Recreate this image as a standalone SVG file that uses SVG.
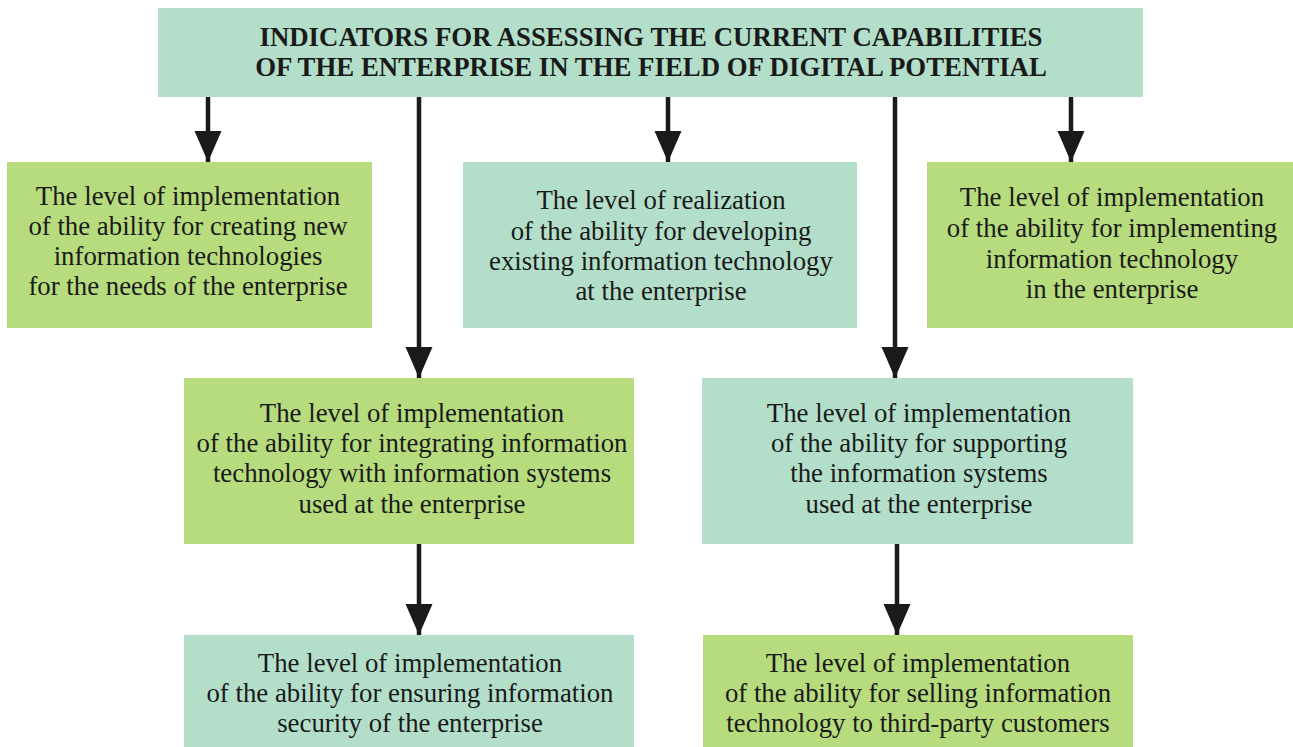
<svg xmlns="http://www.w3.org/2000/svg" width="1293" height="747" viewBox="0 0 1293 747">
<defs>
<style>
.teal{fill:#b3dfca}
.green{fill:#b7dc7d}
text{font-family:'Liberation Serif','Times New Roman',serif;fill:#1a1a1a;text-anchor:middle}
.t{font-size:26.8px}
.h{font-size:26.8px;font-weight:bold}
.c{stroke:#1a1a1a;stroke-width:4.5;fill:none;marker-end:url(#ah)}
</style>
<marker id="ah" markerUnits="userSpaceOnUse" markerWidth="31" markerHeight="28" refX="31" refY="14" orient="auto" viewBox="0 0 31 28">
<path d="M0,0.5 L31,14 L0,27.5 Z" fill="#1a1a1a"/>
</marker>
</defs>
<rect width="1293" height="747" fill="#fff"/>
<g id="connectors">
<path class="c" d="M208,97 V162"/>
<path class="c" d="M419,97 V378"/>
<path class="c" d="M668,97 V162"/>
<path class="c" d="M895,97 V378"/>
<path class="c" d="M1071,97 V162"/>
<path class="c" d="M419,544 V635"/>
<path class="c" d="M897,544 V635"/>
</g>
<g id="title">
<rect class="teal" x="158" y="8" width="985" height="89"/>
<text class="h" x="651" y="46">INDICATORS FOR ASSESSING THE CURRENT CAPABILITIES</text>
<text class="h" x="651" y="76">OF THE ENTERPRISE IN THE FIELD OF DIGITAL POTENTIAL</text>
</g>
<g id="n1">
<rect class="green" x="7" y="162" width="365" height="166"/>
<text class="t" x="188" y="205">The level of implementation</text>
<text class="t" x="188" y="235">of the ability for creating new</text>
<text class="t" x="188" y="265">information technologies</text>
<text class="t" x="188" y="295">for the needs of the enterprise</text>
</g>
<g id="n2">
<rect class="teal" x="463" y="162" width="394" height="166"/>
<text class="t" x="661" y="209">The level of realization</text>
<text class="t" x="661" y="240">of the ability for developing</text>
<text class="t" x="661" y="270">existing information technology</text>
<text class="t" x="661" y="300">at the enterprise</text>
</g>
<g id="n3">
<rect class="green" x="927" y="162" width="366" height="166"/>
<text class="t" x="1112" y="206">The level of implementation</text>
<text class="t" x="1112" y="237">of the ability for implementing</text>
<text class="t" x="1112" y="268">information technology</text>
<text class="t" x="1112" y="298">in the enterprise</text>
</g>
<g id="n4">
<rect class="green" x="184" y="378" width="450" height="166"/>
<text class="t" x="412" y="422">The level of implementation</text>
<text class="t" x="412" y="452">of the ability for integrating information</text>
<text class="t" x="412" y="482">technology with information systems</text>
<text class="t" x="412" y="513">used at the enterprise</text>
</g>
<g id="n5">
<rect class="teal" x="702" y="378" width="431" height="166"/>
<text class="t" x="919" y="422">The level of implementation</text>
<text class="t" x="919" y="452">of the ability for supporting</text>
<text class="t" x="919" y="482">the information systems</text>
<text class="t" x="919" y="513">used at the enterprise</text>
</g>
<g id="n6">
<rect class="teal" x="184" y="635" width="450" height="112"/>
<text class="t" x="410" y="672">The level of implementation</text>
<text class="t" x="410" y="702">of the ability for ensuring information</text>
<text class="t" x="410" y="732">security of the enterprise</text>
</g>
<g id="n7">
<rect class="green" x="703" y="635" width="430" height="112"/>
<text class="t" x="918" y="672">The level of implementation</text>
<text class="t" x="918" y="702">of the ability for selling information</text>
<text class="t" x="918" y="732">technology to third-party customers</text>
</g>
</svg>
